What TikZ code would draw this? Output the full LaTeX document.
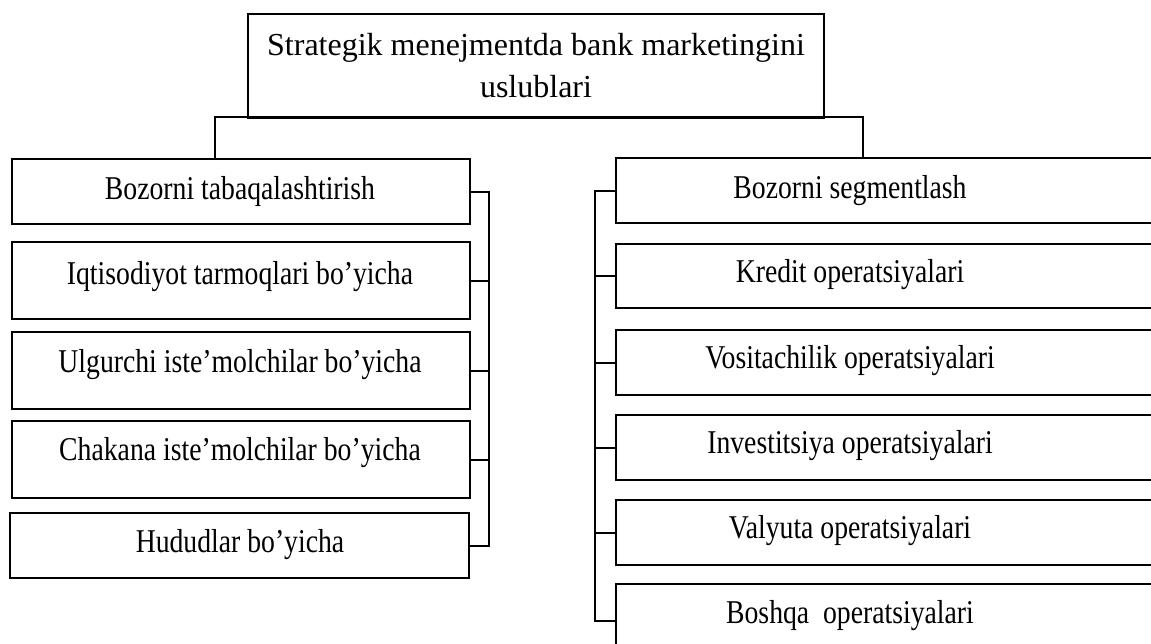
\documentclass[tikz,border=0pt]{standalone}
\usepackage{fontspec}
\setmainfont{Liberation Serif}
\usetikzlibrary{positioning}
\newcommand{\stretched}[1]{\scalebox{1}[1.2]{#1}}

\begin{document}
\begin{tikzpicture}[x=0.5pt, y=-0.5pt, line width=1pt,
    box/.style={draw, rectangle, inner sep=0pt, anchor=north west,
      minimum width=229pt, minimum height=32.5pt},
    tall/.style={minimum height=38.5pt},
    wide/.style={minimum width=290pt},
    txt/.style={inner sep=0pt, anchor=base, font=\fontsize{13.85}{21}\selectfont}]
    \useasboundingbox (0,0) rectangle (1151,643);
    \clip (0,0) rectangle (1151,643);

    % top box
    \node[box, minimum width=288pt, minimum height=52pt] (top) at (247,13) {};
    \node[txt, anchor=center, align=center, font=\fontsize{16}{21}\selectfont] (ttop) at (top.center)
      {Strategik menejmentda bank marketingini\\uslublari};

    % left column
    \node[box] (l1) at (11,158) {};
    \node[box, tall] (l2) at (11,241) {};
    \node[box, tall] (l3) at (11,331) {};
    \node[box, tall] (l4) at (11,420) {};
    \node[box, minimum width=229.5pt] (l5) at (9,512) {};
    \node[txt] (tl1) at (240,199) {\stretched{Bozorni tabaqalashtirish}};
    \node[txt] (tl2) at (240,284) {\stretched{Iqtisodiyot tarmoqlari bo’yicha}};
    \node[txt] (tl3) at (240,372) {\stretched{Ulgurchi iste’molchilar bo’yicha}};
    \node[txt] (tl4) at (240,460) {\stretched{Chakana iste’molchilar bo’yicha}};
    \node[txt] (tl5) at (240,552) {\stretched{Hududlar bo’yicha}};

    % right column
    \node[box, wide] (r1) at (615,157) {};
    \node[box, wide, minimum height=32pt] (r2) at (615,243) {};
    \node[box, wide] (r3) at (615,329) {};
    \node[box, wide] (r4) at (615,414) {};
    \node[box, wide] (r5) at (615,499) {};
    \node[box, wide, minimum height=37pt] (r6) at (615,583) {};
    \node[txt] (tr1) at (850,198) {\stretched{Bozorni segmentlash}};
    \node[txt] (tr2) at (850,282) {\stretched{Kredit operatsiyalari}};
    \node[txt] (tr3) at (850,368) {\stretched{Vositachilik operatsiyalari}};
    \node[txt] (tr4) at (850,453) {\stretched{Investitsiya operatsiyalari}};
    \node[txt] (tr5) at (850,538) {\stretched{Valyuta operatsiyalari}};
    \node[txt] (tr6) at (850,623) {\stretched{Boshqa\ \ operatsiyalari}};

    % connectors
    \coordinate (sl) at (215,117);
    \coordinate (sr) at (863,117);
    \coordinate (lbus) at (489,0);
    \coordinate (rbus) at (595,0);
    \draw (l1.north -| sl) -- (sl) -- (sr) -- (r1.north -| sr);
    \draw (l1.east) -- (l1.east -| lbus) -- (l5.east -| lbus) -- (l5.east);
    \foreach \n in {l2,l3,l4}
      \draw (\n.east) -- (\n.east -| lbus);
    \draw (r1.west) -- (r1.west -| rbus) -- (r6.west -| rbus) -- (r6.west);
    \foreach \n in {r2,r3,r4,r5}
      \draw (\n.west) -- (\n.west -| rbus);
\end{tikzpicture}
\end{document}
